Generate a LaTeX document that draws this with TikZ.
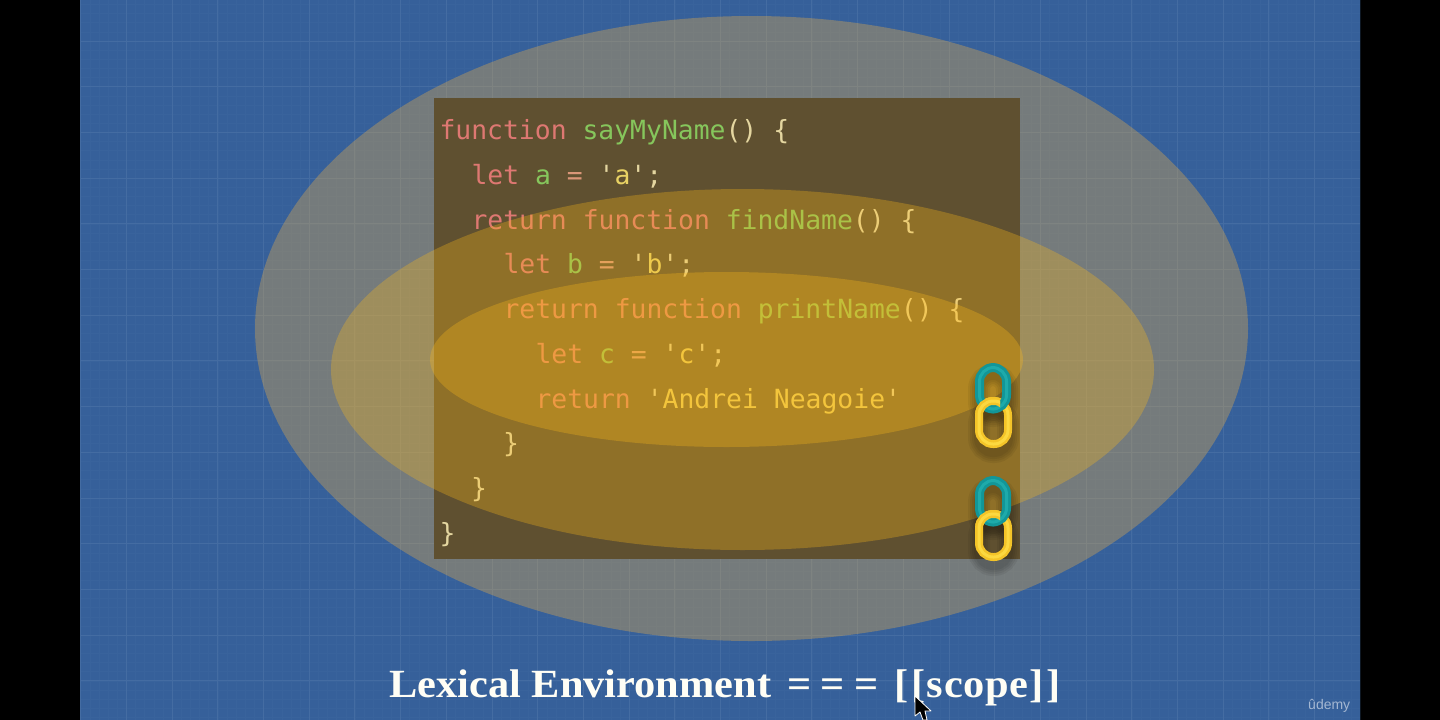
\documentclass[tikz,border=0pt]{standalone}
\usepackage{fontspec}
\setmainfont{Liberation Serif}
\newfontfamily\codefont{DejaVu Sans Mono}
\newfontfamily\udfont{Liberation Sans}
\definecolor{bgblue}{RGB}{54,96,154}
\definecolor{gridmaj}{RGB}{68,108,162}
\definecolor{gridmin}{RGB}{57,99,156}
\definecolor{glow}{RGB}{250,180,62}
\definecolor{glowb}{RGB}{255,186,24}
\definecolor{boxc}{RGB}{95,80,48}
\definecolor{kwc}{RGB}{222,120,114}
\definecolor{fnc}{RGB}{134,198,92}
\definecolor{puc}{RGB}{228,214,160}
\definecolor{eqc}{RGB}{218,150,120}
\definecolor{stc}{RGB}{232,210,100}
\definecolor{tealc}{RGB}{18,150,152}
\definecolor{teall}{RGB}{30,170,170}
\definecolor{yelc}{RGB}{244,196,40}
\definecolor{yell}{RGB}{252,216,64}
\newcommand\kw[1]{\textcolor{kwc}{#1}}
\newcommand\fn[1]{\textcolor{fnc}{#1}}
\newcommand\pu[1]{\textcolor{puc}{#1}}
\newcommand\st[1]{\textcolor{stc}{#1}}
\newcommand\eq[1]{\textcolor{eqc}{#1}}
\tikzset{
  codeline/.style={anchor=base west,inner sep=0pt,outer sep=0pt,font=\codefont\fontsize{26.4}{30}\selectfont},
  halo/.style={fill=glowb,fill opacity=0.3},
  linkshape/.style={rounded corners=14pt,line width=#1},
  shadowstroke/.style={draw=black,draw opacity=0.06,rounded corners=14pt,line width=#1}
}
\newcommand\chainat[1]{%
  \begin{scope}[yshift=-#1pt]
    \foreach \w in {22,18,14,10}{
      \draw[shadowstroke=\w] (979,375) rectangle (1007,416);
      \draw[shadowstroke=\w] (979,410) rectangle (1008,452);
    }
    \draw[yelc,linkshape=8pt] (979,401) rectangle (1008,444);
    \draw[yell,linkshape=3pt] (979,401) rectangle (1008,444);
    \draw[tealc,linkshape=9pt] (979.5,367.5) rectangle (1006.5,409);
    \draw[teall,linkshape=3pt] (979.5,367.5) rectangle (1006.5,409);
    \begin{scope}
      \clip (968,392) rectangle (1000,411);
      \draw[yelc,linkshape=8pt] (979,401) rectangle (1008,444);
      \draw[yell,linkshape=3pt] (979,401) rectangle (1008,444);
    \end{scope}
  \end{scope}
}
\begin{document}
\begin{tikzpicture}[x=1pt,y=-1pt]
\useasboundingbox (0,0) rectangle (1440,720);
\fill[black] (0,0) rectangle (1440,720);
\fill[bgblue] (80,0) rectangle (1360,720);
% grid
\begin{scope}
  \clip (80,0) rectangle (1360,720);
  \foreach \k in {0,...,140}{
    \draw[gridmin,line width=0.5pt] ({80.7+9.14*\k},0) -- ({80.7+9.14*\k},720);
  }
  \foreach \k in {0,...,80}{
    \draw[gridmin,line width=0.5pt] (80,{-4.7+9.14*\k}) -- (1360,{-4.7+9.14*\k});
  }
  \foreach \k in {0,...,28}{
    \draw[gridmaj,line width=1pt] ({80.7+45.7*\k},0) -- ({80.7+45.7*\k},720);
  }
  \foreach \k in {0,...,16}{
    \draw[gridmaj,line width=1pt] (80,{-4.7+45.7*\k}) -- (1360,{-4.7+45.7*\k});
  }
\end{scope}
% outer scope
\fill[glow,fill opacity=0.32] (751.5,328.5) ellipse [x radius=496.5,y radius=312.5];
% code box
\fill[boxc] (434,98) rectangle (1020,559);
\node[codeline] (l1) at (439.5,139.5) {\kw{function} \fn{sayMyName}\pu{() \{}};
\node[codeline] (l2) at (471.5,184.3) {\kw{let} \fn{a} \eq{=} \pu{'}\st{a}\pu{';}};
\node[codeline] (l3) at (471.5,229.1) {\kw{return function} \fn{findName}\pu{() \{}};
\node[codeline] (l4) at (503.5,273.9) {\kw{let} \fn{b} \eq{=} \pu{'}\st{b}\pu{';}};
\node[codeline] (l5) at (503.5,318.7) {\kw{return function} \fn{printName}\pu{() \{}};
\node[codeline] (l6) at (535.5,363.5) {\kw{let} \fn{c} \eq{=} \pu{'}\st{c}\pu{';}};
\node[codeline] (l7) at (535.5,408.3) {\kw{return} \pu{'}\st{Andrei Neagoie}\pu{'}};
\node[codeline] (l8) at (503,452.6) {\pu{\}}};
\node[codeline] (l9) at (471,497.4) {\pu{\}}};
\node[codeline] (l10) at (439.5,542.2) {\pu{\}}};
% inner scopes
\fill[halo] (742.5,369.5) ellipse [x radius=411.5,y radius=180.5];
\fill[halo] (726.5,359.5) ellipse [x radius=296.5,y radius=87.5];
% chains
\chainat{0}
\chainat{113}
% title
\node[anchor=base,inner sep=0pt,text=white!96!yellow,font=\bfseries\fontsize{40}{44}\selectfont] (title) at (725,697) {\scalebox{1.06}[1]{Lexical Environment\kern5pt\ =\kern9pt=\kern9pt=\kern5pt\ [\kern3pt[\kern.6pt s\kern.7pt c\kern.7pt o\kern.7pt p\kern.7pt e\kern.6pt]\kern3pt]}};
% watermark
\node[anchor=base west,inner sep=0pt,text=white!55!bgblue,font=\udfont\fontsize{14}{16}\selectfont] (ud) at (1308,709) {ûdemy};
% cursor
\filldraw[black,draw=white,line width=0.8pt,line join=round] (915,696) -- (915,716) -- (920,712) -- (923,720) -- (927,720) -- (925,711) -- (931,711) -- cycle;
\end{tikzpicture}
\end{document}
